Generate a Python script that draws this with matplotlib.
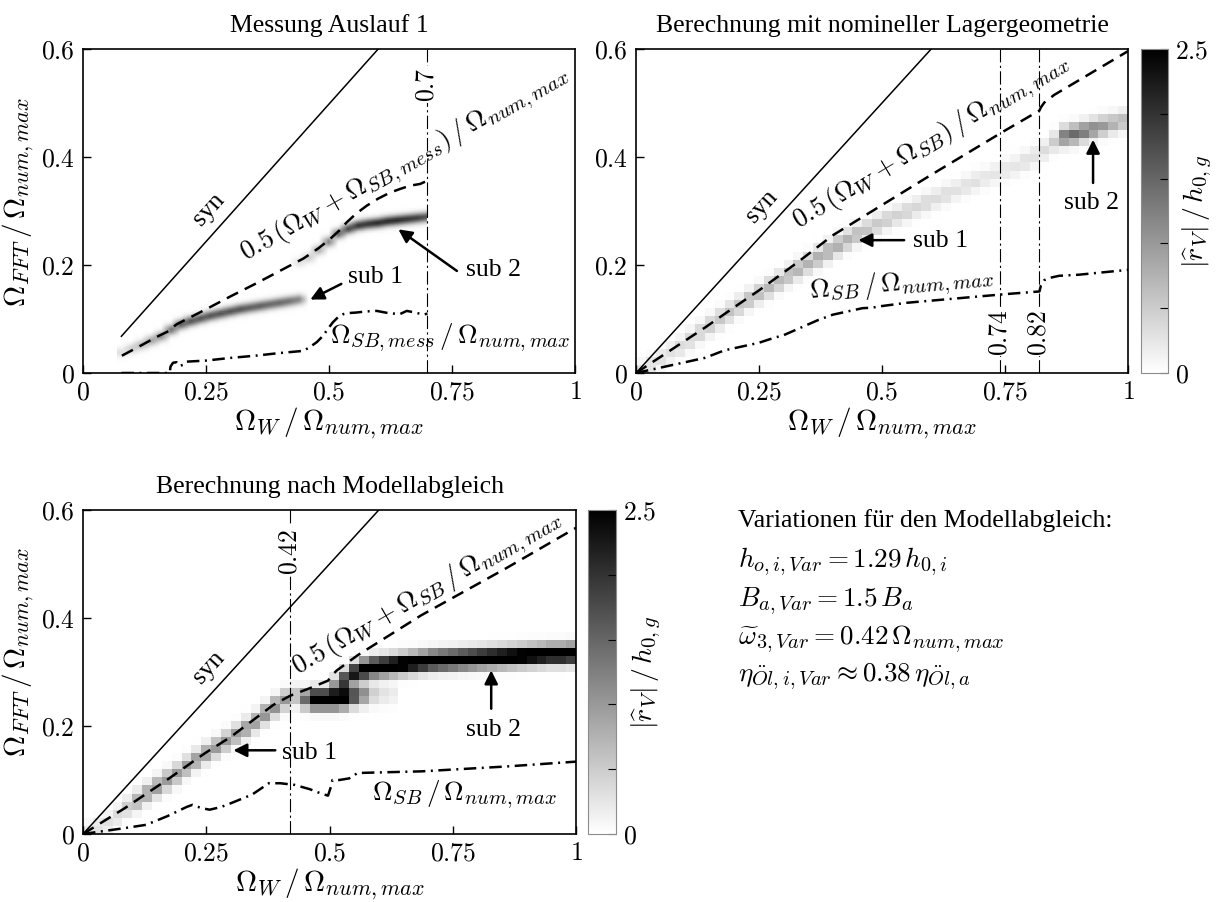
import numpy as np
import matplotlib
matplotlib.use("Agg")
import matplotlib.pyplot as plt
import matplotlib._mathtext as _mt
from matplotlib.patches import Rectangle

plt.rcParams['font.family'] = ['Liberation Serif', 'DejaVu Serif']
plt.rcParams['mathtext.fontset'] = 'cm'
_mt.SHRINK_FACTOR = 0.75  # slightly larger sub/superscripts, closer to the LaTeX look

# ---------------- texts / ticks ----------------
titles = ['Messung Auslauf 1', 'Berechnung mit nomineller Lagergeometrie',
          'Berechnung nach Modellabgleich']
x_ticks = [0, 0.25, 0.5, 0.75, 1]
x_tick_labels = ['$0$', '$0.25$', '$0.5$', '$0.75$', '$1$']
y_ticks = [0, 0.2, 0.4, 0.6]
y_tick_labels = ['$0$', '$0.2$', '$0.4$', '$0.6$']
cbar_ticks = [0, 0.5, 1, 1.5, 2, 2.5]
cbar_tick_labels = ['$0$', '', '', '', '', '$2.5$']
xlabel = r'$\Omega_W\,/\,\Omega_{num,max}$'
ylabel = r'$\Omega_{FFT}\,/\,\Omega_{num,max}$'
cbar_label = r'$|\widehat{r}_V|\,/\,h_{0,g}$'
variation_lines = ['Variationen für den Modellabgleich:',
                   r'$h_{o,i,Var} = 1.29\,h_{0,i}$',
                   r'$B_{a,Var} = 1.5\,B_a$',
                   r'$\widetilde{\omega}_{3,Var} = 0.42\,\Omega_{num,max}$',
                   r'$\eta_{\ddot{O}l,i,Var} \approx 0.38\,\eta_{\ddot{O}l,a}$']

# ---------------- panel 1: Messung ----------------
p1_syn_x = [0.078, 0.60]
p1_syn_y = [0.068, 0.60]
p1_dash_x = [0.079, 0.12, 0.15, 0.175, 0.18, 0.19, 0.25, 0.30, 0.35, 0.40, 0.448, 0.461,
             0.48, 0.502, 0.52, 0.536, 0.555, 0.577, 0.60, 0.624, 0.645, 0.665, 0.685, 0.702]
p1_dash_y = [0.032, 0.052, 0.067, 0.078, 0.083, 0.090, 0.118, 0.142, 0.165, 0.189, 0.212, 0.220,
             0.232, 0.248, 0.263, 0.279, 0.295, 0.310, 0.323, 0.334, 0.341, 0.347, 0.350, 0.357]
p1_sb_x = [0.078, 0.176, 0.178, 0.183, 0.19, 0.196, 0.203, 0.21, 0.25, 0.30, 0.35, 0.40,
           0.448, 0.461, 0.475, 0.488, 0.498, 0.508, 0.518, 0.529, 0.54, 0.556, 0.575,
           0.597, 0.62, 0.644, 0.658, 0.675, 0.692, 0.70]
p1_sb_y = [0.0, 0.0, 0.012, 0.019, 0.020, 0.013, 0.015, 0.021, 0.023, 0.028, 0.032, 0.037,
           0.041, 0.048, 0.057, 0.069, 0.082, 0.094, 0.103, 0.109, 0.111, 0.112, 0.114,
           0.115, 0.111, 0.109, 0.115, 0.112, 0.108, 0.110]
p1_vline = 0.70
p1_sub1_x = [0.08, 0.10, 0.12, 0.14, 0.16, 0.18, 0.20, 0.22, 0.24, 0.26, 0.28, 0.30, 0.32,
             0.34, 0.36, 0.38, 0.40, 0.42, 0.44]
p1_sub1_y = [0.038, 0.045, 0.052, 0.060, 0.068, 0.080, 0.090, 0.096, 0.101, 0.106, 0.110,
             0.114, 0.118, 0.121, 0.124, 0.127, 0.130, 0.133, 0.136]
p1_sub1_a = [0.3, 0.5, 0.7, 0.9, 1.1, 1.4, 1.6, 1.7, 1.7, 1.7, 1.7, 1.7, 1.7, 1.6, 1.6,
             1.5, 1.5, 1.4, 1.2]
p1_sub2_x = [0.44, 0.46, 0.48, 0.50, 0.52, 0.54, 0.56, 0.58, 0.60, 0.62, 0.64, 0.66, 0.68, 0.70]
p1_sub2_y = [0.205, 0.214, 0.228, 0.243, 0.258, 0.267, 0.273, 0.276, 0.278, 0.281, 0.283,
             0.285, 0.287, 0.289]
p1_sub2_a = [0.3, 0.5, 0.8, 1.2, 1.5, 1.8, 2.0, 2.0, 2.1, 2.1, 2.1, 2.0, 1.9, 1.7]

# ---------------- panel 2: nominal geometry ----------------
p2_syn_x = [0.0, 0.60]
p2_syn_y = [0.0, 0.60]
p2_dash_x = [0.0, 0.14, 0.2, 0.25, 0.33, 0.4, 0.5, 0.6, 0.75, 0.82, 0.823, 0.83, 0.85, 1.0]
p2_dash_y = [0.0, 0.084, 0.122, 0.153, 0.206, 0.255, 0.311, 0.367, 0.449, 0.486, 0.492,
             0.501, 0.515, 0.596]
p2_sb_x = [0.0, 0.14, 0.18, 0.22, 0.25, 0.28, 0.30, 0.33, 0.35, 0.37, 0.40, 0.43, 0.46,
           0.48, 0.50, 0.55, 0.60, 0.70, 0.75, 0.82, 0.823, 0.83, 0.84, 0.86, 0.90, 1.0]
p2_sb_y = [0.0, 0.028, 0.042, 0.050, 0.056, 0.065, 0.070, 0.082, 0.090, 0.098, 0.108, 0.114,
           0.120, 0.121, 0.124, 0.130, 0.134, 0.142, 0.146, 0.151, 0.162, 0.172, 0.176,
           0.180, 0.182, 0.191]
p2_vlines = [0.74, 0.82]
p2_sub1_x = [0.01, 0.03, 0.05, 0.07, 0.09, 0.11, 0.13, 0.15, 0.17, 0.19, 0.21, 0.23, 0.25,
             0.27, 0.29, 0.31, 0.33, 0.35, 0.37, 0.39, 0.41, 0.43, 0.45, 0.47, 0.49, 0.51,
             0.53, 0.55, 0.57, 0.59, 0.61, 0.63, 0.65, 0.67, 0.69, 0.71, 0.73, 0.75, 0.77,
             0.79, 0.81, 0.83]
p2_sub1_y = [0.005, 0.015, 0.027, 0.038, 0.049, 0.062, 0.075, 0.088, 0.100, 0.112, 0.124,
             0.136, 0.147, 0.158, 0.170, 0.181, 0.192, 0.203, 0.214, 0.225, 0.236, 0.246,
             0.256, 0.265, 0.274, 0.283, 0.291, 0.299, 0.307, 0.315, 0.323, 0.331, 0.339,
             0.347, 0.355, 0.362, 0.369, 0.376, 0.383, 0.392, 0.402, 0.412]
p2_sub1_a = [0.25, 0.3, 0.3, 0.3, 0.35, 0.4, 0.45, 0.5, 0.55, 0.6, 0.6, 0.65, 0.65, 0.7,
             0.7, 0.7, 0.75, 0.75, 0.8, 0.8, 0.8, 0.75, 0.7, 0.6, 0.55, 0.5, 0.45, 0.45,
             0.4, 0.4, 0.35, 0.35, 0.3, 0.3, 0.3, 0.25, 0.25, 0.25, 0.25, 0.3, 0.3, 0.35]
p2_sub2_x = [0.85, 0.87, 0.89, 0.91, 0.93, 0.95, 0.97, 0.99]
p2_sub2_y = [0.428, 0.438, 0.442, 0.447, 0.452, 0.457, 0.462, 0.467]
p2_sub2_a = [0.5, 1.3, 1.45, 1.35, 1.2, 1.0, 0.8, 0.7]

# ---------------- panel 3: after model update ----------------
p3_syn_x = [0.0, 0.60]
p3_syn_y = [0.0, 0.60]
p3_dash_x = [0.0, 0.085, 0.17, 0.248, 0.30, 0.386, 0.42, 0.46, 0.497, 0.506, 0.515, 0.557,
             0.686, 0.858, 1.0]
p3_dash_y = [0.0, 0.048, 0.100, 0.150, 0.180, 0.239, 0.256, 0.270, 0.284, 0.295, 0.303,
             0.331, 0.405, 0.492, 0.567]
p3_sb_x = [0.0, 0.085, 0.128, 0.171, 0.21, 0.222, 0.24, 0.257, 0.28, 0.30, 0.343, 0.377,
           0.40, 0.429, 0.46, 0.48, 0.497, 0.502, 0.506, 0.52, 0.54, 0.557, 0.60, 0.686,
           0.858, 1.0]
p3_sb_y = [0.0, 0.011, 0.017, 0.033, 0.050, 0.054, 0.048, 0.045, 0.050, 0.057, 0.073, 0.094,
           0.094, 0.091, 0.083, 0.076, 0.071, 0.085, 0.100, 0.100, 0.103, 0.113, 0.114,
           0.116, 0.125, 0.134]
p3_vline = 0.42
p3_sub1_x = [0.01, 0.03, 0.05, 0.07, 0.09, 0.11, 0.13, 0.15, 0.17, 0.19, 0.21, 0.23, 0.25,
             0.27, 0.29, 0.31, 0.33, 0.35, 0.37, 0.39, 0.41, 0.43]
p3_sub1_y = [0.005, 0.012, 0.020, 0.035, 0.050, 0.062, 0.075, 0.087, 0.099, 0.111, 0.124,
             0.137, 0.149, 0.160, 0.172, 0.184, 0.196, 0.208, 0.222, 0.236, 0.248, 0.255]
p3_sub1_a = [0.2, 0.3, 0.3, 0.35, 0.5, 0.8, 0.9, 1.0, 1.0, 1.0, 1.0, 1.0, 1.0, 1.0, 1.0, 1.0,
             1.0, 1.0, 1.1, 1.1, 1.0, 0.7]
p3_blob_x = [0.45, 0.47, 0.49, 0.51, 0.53, 0.55, 0.57, 0.59, 0.61, 0.63]
p3_blob_y = [0.250, 0.250, 0.250, 0.250, 0.252, 0.255, 0.257, 0.258, 0.258, 0.258]
p3_blob_a = [1.5, 3.0, 3.0, 3.0, 3.0, 2.0, 1.2, 0.5, 0.3, 0.2]
p3_sub2_x = [0.51, 0.53, 0.55, 0.57, 0.59, 0.61, 0.63, 0.65, 0.67, 0.69, 0.71, 0.73, 0.75,
             0.77, 0.79, 0.81, 0.83, 0.85, 0.87, 0.89, 0.91, 0.93, 0.95, 0.97, 0.99]
p3_sub2_y = [0.275, 0.285, 0.298, 0.305, 0.309, 0.311, 0.313, 0.315, 0.317, 0.319, 0.321,
             0.322, 0.323, 0.324, 0.325, 0.326, 0.327, 0.328, 0.329, 0.330, 0.331, 0.332,
             0.333, 0.333, 0.334]
p3_sub2_a = [0.8, 2.0, 2.5, 3.0, 3.0, 3.0, 3.0, 3.0, 3.0, 3.0, 3.0, 3.0, 3.0, 3.0, 3.0, 3.0,
             3.0, 3.0, 3.0, 3.0, 3.0, 3.0, 3.0, 3.0, 3.0]

# ---------------- helpers ----------------
W, H = 1220, 903
FS = 18.5      # plain text
MFS = 19.5     # math annotations
LFS = 21       # axis labels
TFS = 18.5     # tick labels


def rect(l, t, r, b):
    return [l / W, 1 - b / H, (r - l) / W, (b - t) / H]


def heat(cols, rows, ridges, sigma):
    Z = np.zeros((len(rows), len(cols)))
    for xs, ys, amps in ridges:
        for x, y, a in zip(xs, ys, amps):
            i = int(np.argmin(np.abs(cols - x)))
            Z[:, i] += a * np.exp(-0.5 * ((rows - y) / sigma) ** 2)
    return Z


def style_axes(ax, ylab_y=None):
    ax.set_xlim(0, 1)
    ax.set_ylim(0, 0.6)
    ax.set_xticks(x_ticks)
    ax.set_xticklabels(x_tick_labels)
    ax.set_yticks(y_ticks)
    ax.set_yticklabels(y_tick_labels)
    ax.tick_params(direction='in', length=6, width=1.0, labelsize=TFS, pad=6,
                   top=False, right=False)
    for s in ax.spines.values():
        s.set_linewidth(1.2)
    ax.set_xlabel(xlabel, fontsize=LFS, labelpad=1)
    if ylab_y is not None:
        ax.set_ylabel(ylabel, fontsize=LFS)
        ax.yaxis.set_label_coords(-0.094, ylab_y)


def draw_lines(ax, sx, sy, dx, dy, bx, by):
    ax.plot(sx, sy, color='k', lw=1.1, zorder=3)
    ax.plot(dx, dy, color='k', lw=1.8, dashes=(5, 3), zorder=3)
    ax.plot(bx, by, color='k', lw=1.8, dashes=(5, 2.2, 0.8, 2.2), zorder=3)


def vline(ax, x, label, ylab):
    ax.plot([x, x], [0, 0.6], color='k', lw=0.8, dashes=(12, 3, 2, 3), zorder=2)
    ax.text(x, ylab, label, rotation=90, ha='center', va='center', fontsize=TFS,
            zorder=4, bbox=dict(facecolor='white', edgecolor='none', pad=1))


def arrow(ax, tail, tip):
    ax.annotate('', xy=tip, xytext=tail,
                arrowprops=dict(arrowstyle='-|>', color='k', lw=1.8, mutation_scale=20,
                                shrinkA=0, shrinkB=0), zorder=5)


def make_cbar(fig, im, cax):
    cb = fig.colorbar(im, cax=cax)
    cb.set_ticks(cbar_ticks)
    cb.set_ticklabels(cbar_tick_labels)
    cax.tick_params(direction='in', length=6, width=0.8, labelsize=TFS, pad=5,
                    right=True, left=False)
    cb.outline.set_edgecolor('0.55')
    cb.outline.set_linewidth(0.8)
    cax.text(2.1, 0.5, cbar_label, rotation=90, ha='center', va='center',
             fontsize=20, transform=cax.transAxes)
    return cb


fig = plt.figure(figsize=(12.2, 9.03), dpi=100)
ax1 = fig.add_axes(rect(83, 50, 575, 374))
ax2 = fig.add_axes(rect(636, 50, 1128, 374))
cax2 = fig.add_axes(rect(1141, 50, 1168, 374))
ax3 = fig.add_axes(rect(83, 511, 576, 835))
cax3 = fig.add_axes(rect(588, 511, 616, 835))

# ---------------- panel 1 ----------------
cols1 = 0.08 + 0.02 * np.arange(32)
rows1 = 0.002 + 0.004 * np.arange(150)
Z1 = heat(cols1, rows1, [(p1_sub1_x, p1_sub1_y, p1_sub1_a),
                         (p1_sub2_x, p1_sub2_y, p1_sub2_a)], 0.0065)
im1 = ax1.imshow(Z1, origin='lower', extent=[0.07, 0.71, 0, 0.6], aspect='auto',
                 cmap='gray_r', vmin=0, vmax=2.5, interpolation='bilinear', zorder=1)
clip1 = Rectangle((0.07, 0), p1_vline - 0.07, 0.6, transform=ax1.transData)
im1.set_clip_path(clip1)
draw_lines(ax1, p1_syn_x, p1_syn_y, p1_dash_x, p1_dash_y, p1_sb_x, p1_sb_y)
vline(ax1, p1_vline, '$0.7$', 0.535)
style_axes(ax1, ylab_y=0.53)
ax1.set_title(titles[0], fontsize=FS, pad=13)
ax1.text(0.255, 0.305, 'syn', rotation=47.7, ha='center', va='center', fontsize=FS)
ax1.text(0.655, 0.388, r'$0.5\,(\Omega_W + \Omega_{SB,mess})\,/\,\Omega_{num,max}$',
         rotation=29.5, ha='center', va='center', fontsize=MFS, rotation_mode='anchor')
ax1.text(0.747, 0.066, r'$\Omega_{SB,mess}\,/\,\Omega_{num,max}$', ha='center',
         va='center', fontsize=MFS)
ax1.text(0.595, 0.18, 'sub 1', ha='center', va='center', fontsize=FS)
arrow(ax1, (0.525, 0.165), (0.462, 0.136))
ax1.text(0.834, 0.192, 'sub 2', ha='center', va='center', fontsize=FS)
arrow(ax1, (0.76, 0.189), (0.641, 0.266))

# ---------------- panel 2 ----------------
cols = 0.01 + 0.02 * np.arange(50)
rows = 0.0075 + 0.015 * np.arange(40)
Z2 = heat(cols, rows, [(p2_sub1_x, p2_sub1_y, p2_sub1_a),
                       (p2_sub2_x, p2_sub2_y, p2_sub2_a)], 0.012)
im2 = ax2.imshow(Z2, origin='lower', extent=[0, 1, 0, 0.6], aspect='auto',
                 cmap='gray_r', vmin=0, vmax=2.5, interpolation='nearest', zorder=1)
draw_lines(ax2, p2_syn_x, p2_syn_y, p2_dash_x, p2_dash_y, p2_sb_x, p2_sb_y)
for xv in p2_vlines:
    vline(ax2, xv, '$%g$' % xv, 0.077)
style_axes(ax2)
ax2.set_title(titles[1], fontsize=FS, pad=13)
ax2.text(0.255, 0.31, 'syn', rotation=47.7, ha='center', va='center', fontsize=FS)
ax2.text(0.60, 0.428, r'$0.5\,(\Omega_W + \Omega_{SB})\,/\,\Omega_{num,max}$',
         rotation=31.0, ha='center', va='center', fontsize=MFS, rotation_mode='anchor')
ax2.text(0.541, 0.165, r'$\Omega_{SB}\,/\,\Omega_{num,max}$', rotation=5,
         ha='center', va='center', fontsize=MFS, rotation_mode='anchor')
ax2.text(0.618, 0.246, 'sub 1', ha='center', va='center', fontsize=FS)
arrow(ax2, (0.545, 0.246), (0.452, 0.246))
ax2.text(0.925, 0.317, 'sub 2', ha='center', va='center', fontsize=FS)
arrow(ax2, (0.929, 0.352), (0.929, 0.432))
make_cbar(fig, im2, cax2)

# ---------------- panel 3 ----------------
Z3 = heat(cols, rows, [(p3_sub1_x, p3_sub1_y, p3_sub1_a),
                       (p3_blob_x, p3_blob_y, p3_blob_a),
                       (p3_sub2_x, p3_sub2_y, p3_sub2_a)], 0.012)
im3 = ax3.imshow(Z3, origin='lower', extent=[0, 1, 0, 0.6], aspect='auto',
                 cmap='gray_r', vmin=0, vmax=2.5, interpolation='nearest', zorder=1)
draw_lines(ax3, p3_syn_x, p3_syn_y, p3_dash_x, p3_dash_y, p3_sb_x, p3_sb_y)
vline(ax3, p3_vline, '$0.42$', 0.525)
style_axes(ax3, ylab_y=0.565)
ax3.set_title(titles[2], fontsize=FS, pad=13)
ax3.text(0.255, 0.31, 'syn', rotation=47.7, ha='center', va='center', fontsize=FS)
ax3.text(0.70, 0.448, r'$0.5\,(\Omega_W + \Omega_{SB}\,/\,\Omega_{num,max}$',
         rotation=30.0, ha='center', va='center', fontsize=MFS, rotation_mode='anchor')
ax3.text(0.774, 0.074, r'$\Omega_{SB}\,/\,\Omega_{num,max}$', ha='center',
         va='center', fontsize=MFS)
ax3.text(0.459, 0.152, 'sub 1', ha='center', va='center', fontsize=FS)
arrow(ax3, (0.39, 0.155), (0.305, 0.155))
ax3.text(0.832, 0.195, 'sub 2', ha='center', va='center', fontsize=FS)
arrow(ax3, (0.828, 0.232), (0.828, 0.303))
make_cbar(fig, im3, cax3)

# ---------------- text block ----------------
baselines = [527, 567, 606, 644, 681]
for k, (line, b) in enumerate(zip(variation_lines, baselines)):
    fig.text(738 / W, 1 - b / H, line, fontsize=FS if k == 0 else MFS,
             va='baseline', ha='left')

fig.savefig('out.png', dpi=100)
